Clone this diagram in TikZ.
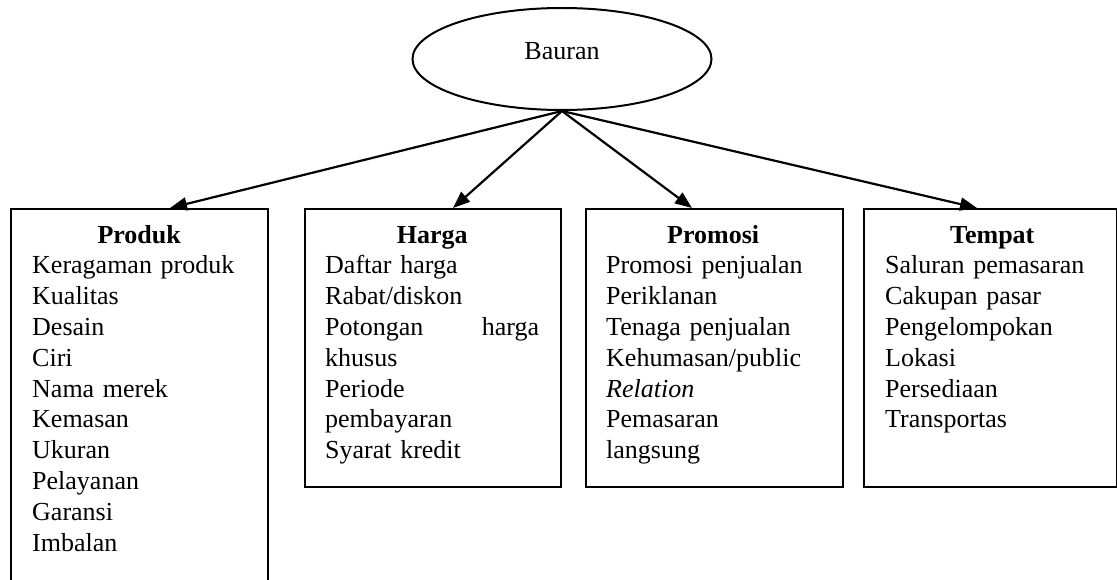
\documentclass[tikz,border=0pt]{standalone}
\usepackage{fontspec}
\setmainfont{Liberation Serif}
\usetikzlibrary{shapes.geometric,arrows.meta}
\begin{document}
\begin{tikzpicture}[x=1pt,y=-1pt,
  box/.style={draw, line width=2pt, inner sep=0pt, anchor=north west},
  list/.style={anchor=north west, inner sep=0pt, text width=214pt, align=left, font=\fontsize{26}{30.8}\selectfont},
  arr/.style={line width=2.2pt, -{Triangle[length=17pt,width=13pt]}}]
\clip (0,0) rectangle (1117,580);
\node[ellipse, draw, line width=2pt, minimum width=299pt, minimum height=102pt, inner sep=0pt] (b) at (562,59) {};
\node[font=\fontsize{26}{30.8}\selectfont, anchor=base, inner sep=0pt] (bt) at (562,60) {Bauran};
\node[box, minimum width=257pt, minimum height=420pt] (p) at (10,208) {};
\node[box, minimum width=256pt, minimum height=278pt] (h) at (304,208) {};
\node[box, minimum width=257pt, minimum height=278pt] (r) at (585,208) {};
\node[box, minimum width=253pt, minimum height=278pt] (t) at (863,208) {};
\node[list] (pt) at (32,221.4) {\strut\makebox[\linewidth]{\textbf{Produk}}\\
Keragaman produk\\ Kualitas\\ Desain\\ Ciri\\ Nama merek\\ Kemasan\\ Ukuran\\ Pelayanan\\ Garansi\\ Imbalan};
\node[list] (ht) at (325,221.4) {\strut\makebox[\linewidth]{\textbf{Harga}}\\
Daftar harga\\ Rabat/diskon\\ Potongan\hfill harga\\ khusus\\ Periode\\ pembayaran\\ Syarat kredit};
\node[list] (rt) at (606,221.4) {\strut\makebox[\linewidth]{\textbf{Promosi}}\\
Promosi penjualan\\ Periklanan\\ Tenaga penjualan\\ Kehumasan/public\\ \textit{Relation}\\ Pemasaran\\ langsung};
\node[list] (tt) at (885,221.4) {\strut\makebox[\linewidth]{\textbf{Tempat}}\\
Saluran pemasaran\\ Cakupan pasar\\ Pengelompokan\\ Lokasi\\ Persediaan\\ Transportas};
\draw[arr] (b.south) -- ([xshift=160pt]p.north west);
\draw[arr] (b.south) -- ([xshift=149pt]h.north west);
\draw[arr] (b.south) -- ([xshift=107pt]r.north west);
\draw[arr] (b.south) -- ([xshift=114pt]t.north west);
\end{tikzpicture}
\end{document}
